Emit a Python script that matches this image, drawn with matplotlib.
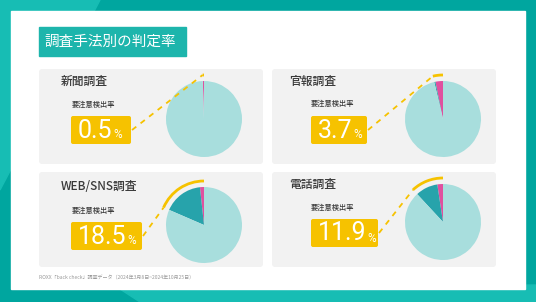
import numpy as np
import matplotlib.pyplot as plt
from matplotlib.patches import FancyBboxPatch, Rectangle, Arc, Polygon

W, H = 536, 302

title = '調査手法別の判定率'
methods = ['新聞調査', '官報調査', 'WEB/SNS調査', '電話調査']
rates = [0.5, 3.7, 18.5, 11.9]
pink_part = [0.5, 3.2, 1.7, 2.4]
teal_part = [0.0, 0.5, 16.8, 9.5]
rate_label = '要注意検出率'
source = 'ROXX「back check」調査データ（2024年3月8日~2024年10月25日）'

plt.rcParams['font.family'] = ['Noto Sans CJK JP', 'DejaVu Sans']

# layout in pixels, measured from the top-left corner
panels = [(39, 69), (272, 69), (39, 172), (272, 172)]
titles_xy = [(61, 81), (289, 81), (61, 187), (289, 184)]
labels_xy = [(72, 105), (311, 104), (72, 211), (311, 208)]
badges = [(71, 116, 60), (311, 116, 56), (71, 222, 71), (311, 219, 67)]
pies = [(204, 119), (443, 119), (204, 225), (443, 222)]
R = 38

c_bg = '#00a69f'
c_bg2 = '#17bdb4'
c_head = '#1db5ac'
c_panel = '#f2f2f2'
c_yellow = '#f6c200'
c_light = '#a8dedd'
c_dark = '#27a3ab'
c_pink = '#e0509f'

fig = plt.figure(figsize=(W / 100, H / 100), dpi=100)
ax = fig.add_axes([0, 0, 1, 1])


def Y(y):
    return H - y


# background frame
ax.add_patch(Rectangle((0, 0), W, H, color=c_bg, zorder=0))
ax.add_patch(Polygon([(0, Y(0)), (100, Y(0)), (0, Y(190))], color=c_bg2, zorder=0))
ax.add_patch(Polygon([(140, 0), (W, 0), (W, Y(285)), (120, Y(289))], color=c_bg2, zorder=0))
ax.add_patch(Rectangle((11, Y(289)), 514, 278, color='white', zorder=1))

# heading
ax.add_patch(Rectangle((39, Y(56)), 147, 29, color=c_head, zorder=2))
ax.text(44, Y(42), title, color='white', fontsize=10.5, va='center', ha='left', zorder=3)

nums = []
for i in range(4):
    px, py = panels[i]
    ax.add_patch(FancyBboxPatch((px, Y(py + 95)), 224, 95,
                                boxstyle='round,pad=0,rounding_size=3',
                                fc=c_panel, ec='none', zorder=2))
    tx, ty = titles_xy[i]
    ax.text(tx, Y(ty), methods[i], fontsize=8.5, color='#3a3a3a',
            fontweight='medium', va='center', ha='left', zorder=3)
    lx, ly = labels_xy[i]
    ax.text(lx, Y(ly), rate_label, fontsize=5.2, color='#3a3a3a',
            fontweight='medium', va='center', ha='left', zorder=3)

    bx, by, bw = badges[i]
    ax.add_patch(FancyBboxPatch((bx, Y(by + 28)), bw, 28,
                                boxstyle='round,pad=0,rounding_size=2',
                                fc=c_yellow, ec='none', zorder=3))
    nums.append(ax.text(bx + 7, Y(by + 14.5), f'{rates[i]}', fontsize=18,
                        color='white', va='center', ha='left', zorder=4,
                        family=['Roboto', 'DejaVu Sans']))

    # pie
    cx, cy = pies[i]
    vals = [pink_part[i], teal_part[i], 100 - rates[i]]
    cols = [c_pink, c_dark, c_light]
    keep = [k for k, v in enumerate(vals) if v > 0]
    ax.pie([vals[k] for k in keep], colors=[cols[k] for k in keep],
           startangle=90, counterclock=True, center=(cx, Y(cy)), radius=R,
           frame=True, wedgeprops=dict(linewidth=0, zorder=4))

    # highlight arc + leader line
    t2 = 90 + rates[i] * 3.6
    ar = R + 6
    ax.add_patch(Arc((cx, Y(cy)), 2 * ar, 2 * ar, theta1=90, theta2=t2,
                     color=c_yellow, lw=2, zorder=5))
    ex = cx + ar * np.cos(np.radians(t2))
    ey = Y(cy) + ar * np.sin(np.radians(t2))
    ax.plot([bx + bw + 1, ex], [Y(by + 14), ey], color=c_yellow, lw=1.3,
            ls=(0, (3, 3)), zorder=5)

ax.text(39, Y(278), source, fontsize=3.6, color='#9a9a9a', va='center',
        ha='left', zorder=3)

ax.set_xlim(0, W)
ax.set_ylim(0, H)
ax.set_aspect('auto')
ax.axis('off')

# percent signs right after the numbers
fig.canvas.draw()
rend = fig.canvas.get_renderer()
inv = ax.transData.inverted()
for i, t in enumerate(nums):
    bb = t.get_window_extent(rend)
    x1, _ = inv.transform((bb.x1, bb.y0))
    bx, by, bw = badges[i]
    ax.text(x1 + 0.5, Y(by + 19), '%', fontsize=8.5, color='white', va='center',
            ha='left', zorder=4, family=['Roboto', 'DejaVu Sans'])

fig.savefig('out.png', dpi=100)
